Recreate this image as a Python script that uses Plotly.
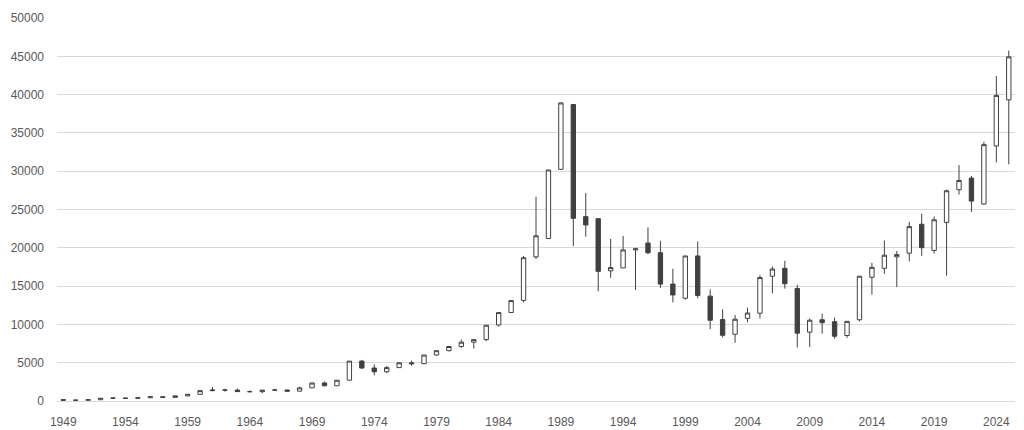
import plotly.graph_objects as go

years = list(range(1949, 2026))

opens = [176, 109, 102, 166, 362, 378, 356, 425, 549, 475,
         666, 875, 1357, 1433, 1420, 1225, 1216, 1418, 1432, 1283,
         1715, 2359, 1987, 2714, 5208, 4307, 3817, 4359, 4991, 4866,
         6002, 6570, 7117, 7682, 8017, 9927, 11558, 13136, 18820, 21217,
         30243, 38712, 24069, 23801, 16994, 17369, 19724, 20618, 19364, 15268,
         13416, 18937, 13691, 10631, 8713, 10787, 11458, 16294, 17322, 14691,
         8991, 10609, 10352, 8549, 10604, 16147, 17325, 18818, 19298, 23073,
         19655, 23319, 27575, 29098, 25716, 33288, 39310]
highs = [176, 114, 166, 362, 474, 378, 425, 549, 595, 666,
         874, 1356, 1829, 1589, 1634, 1369, 1417, 1588, 1506, 1851,
         2358, 2534, 2740, 5207, 5359, 4787, 4564, 4990, 5287, 6001,
         6590, 7188, 8019, 8026, 9893, 11577, 13128, 18936, 26646, 30159,
         38957, 38712, 27146, 23801, 21148, 21552, 20011, 22666, 20910, 17264,
         18934, 20833, 14556, 11979, 11238, 12195, 16445, 17563, 18300, 15156,
         10767, 11408, 10891, 10433, 16320, 18030, 20952, 19592, 23382, 24448,
         24091, 27602, 30795, 29388, 33853, 42426, 45750]
lows = [85, 85, 98, 164, 295, 315, 348, 424, 471, 473,
        666, 860, 1258, 1216, 1200, 1202, 1020, 1410, 1250, 1266,
        1715, 1929, 1981, 2712, 4188, 3355, 3628, 4359, 4597, 4866,
        5924, 6475, 6956, 6849, 7803, 9703, 11545, 12881, 18544, 21217,
        30183, 20221, 21456, 14309, 16078, 17369, 14485, 19161, 14775, 12879,
        13232, 13423, 9382, 8303, 7603, 10299, 10770, 14045, 14669, 6994,
        7054, 8796, 8135, 8238, 10398, 13885, 16592, 14864, 18224, 18948,
        19241, 16358, 26954, 24681, 25661, 31156, 30900]
closes = [109, 101, 166, 362, 377, 356, 425, 549, 474, 666,
          874, 1356, 1432, 1420, 1225, 1216, 1417, 1432, 1283, 1714,
          2358, 1987, 2713, 5207, 4306, 3817, 4358, 4990, 4865, 6001,
          6569, 7116, 7681, 8016, 9893, 11542, 13113, 18701, 21564, 30159,
          38915, 23848, 22983, 16924, 17417, 19723, 19868, 19361, 15258, 13842,
          18934, 13785, 10542, 8578, 10676, 11488, 16111, 17225, 15307, 8859,
          10546, 10228, 8455, 10395, 16291, 17450, 19033, 19114, 22764, 20014,
          23656, 27444, 28791, 26094, 33464, 39894, 44930]

tick_years = list(range(1949, 2026, 5))
y_ticks = list(range(0, 50001, 5000))

dark = "#404040"

fig = go.Figure(go.Candlestick(
    x=years, open=opens, high=highs, low=lows, close=closes,
    increasing=dict(line=dict(color=dark, width=1), fillcolor="#ffffff"),
    decreasing=dict(line=dict(color=dark, width=1), fillcolor=dark),
    whiskerwidth=0,
    hoverinfo="skip",
    showlegend=False,
))

fig.update_layout(
    width=1024, height=430,
    margin=dict(l=57, r=9, t=18, b=29, autoexpand=False),
    paper_bgcolor="#ffffff", plot_bgcolor="#ffffff",
    boxgap=0.5,
    font=dict(family="Liberation Sans, Arial, sans-serif", size=12, color="#595959"),
    xaxis=dict(
        type="linear", range=[years[0] - 0.5, years[-1] + 0.5],
        tickmode="array", tickvals=tick_years, ticktext=[str(t) for t in tick_years],
        showgrid=False, showline=True, linecolor="#d9d9d9", linewidth=1,
        zeroline=False, ticks="", ticklabelstandoff=10, automargin=False,
        rangeslider=dict(visible=False),
        tickfont=dict(size=12, color="#595959"),
    ),
    yaxis=dict(
        range=[0, 50000], tickmode="array", tickvals=y_ticks,
        ticktext=[str(v) for v in y_ticks],
        showgrid=True, gridcolor="#d9d9d9", gridwidth=1,
        zeroline=False, showline=False, ticks="", ticklabelstandoff=12,
        automargin=False,
        tickfont=dict(size=12, color="#595959"),
    ),
)

fig.write_html("out.html", config={"displayModeBar": False},
               post_script="document.body.style.margin='0';")
